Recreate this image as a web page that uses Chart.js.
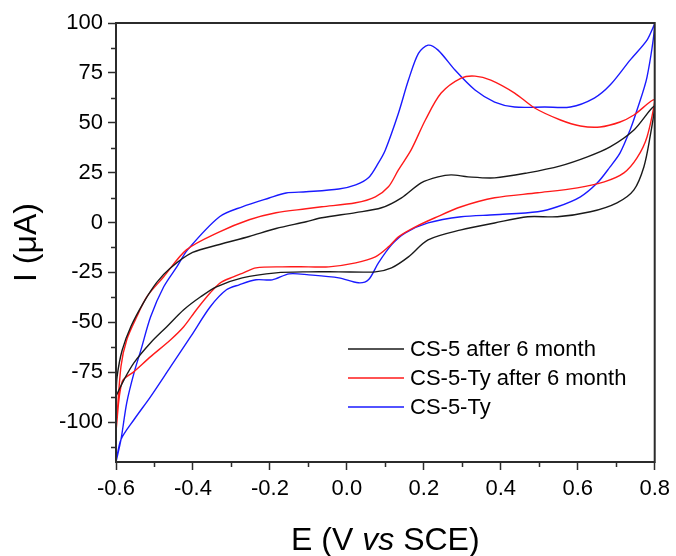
<!DOCTYPE html>
<html>
<head>
<meta charset="utf-8">
<script src="https://cdn.jsdelivr.net/npm/chart.js@4.4.1/dist/chart.umd.min.js"></script>
<style>
  html, body { margin: 0; padding: 0; background: #fff; }
  #wrap { width: 676px; height: 556px; }
</style>
</head>
<body>
<div id="wrap"><canvas id="cv" width="676" height="556"></canvas></div>
<script>
// series names (legend order)
const seriesNames = ['CS-5 after 6 month', 'CS-5-Ty after 6 month', 'CS-5-Ty'];

// CS-5 after 6 month : potential (V) and current (uA), forward scan then reverse
const cs5E = [-0.6, -0.597, -0.584, -0.561, -0.528, -0.494, -0.46, -0.401, -0.331, -0.254, -0.184, -0.106, -0.065, 0.023, 0.09, 0.142, 0.193, 0.237, 0.271, 0.315, 0.384, 0.47, 0.555, 0.625, 0.684, 0.746, 0.8,
  0.788, 0.772, 0.746, 0.702, 0.633, 0.547, 0.47, 0.384, 0.297, 0.211, 0.16, 0.116, 0.074, -0.021, -0.099, -0.184, -0.272, -0.339, -0.38, -0.424, -0.468, -0.51, -0.553, -0.579, -0.6];
const cs5I = [-87, -77, -64, -52, -40, -30, -23, -15, -11, -7, -3, 0.4, 2.4, 5, 7.4, 12.4, 19.9, 22.9, 23.9, 22.9, 22.4, 24.9, 28.4, 32.9, 37.9, 46.4, 58.4,
  43, 28, 16.4, 9.9, 5.4, 2.9, 2.9, -0.2, -3.7, -8.7, -17.2, -22.7, -24.7, -24.7, -24.7, -25.2, -27.7, -32.2, -37.2, -43.7, -52.2, -60.2, -70.2, -78.7, -87];

// CS-5-Ty after 6 month
const cs5TyAgedE = [-0.6, -0.587, -0.572, -0.546, -0.52, -0.476, -0.417, -0.331, -0.254, -0.184, -0.106, -0.065, 0.023, 0.074, 0.108, 0.134, 0.167, 0.204, 0.245, 0.297, 0.333, 0.374, 0.436, 0.488, 0.555, 0.607, 0.658, 0.71, 0.746, 0.8,
  0.78, 0.754, 0.72, 0.669, 0.599, 0.496, 0.384, 0.297, 0.229, 0.178, 0.134, 0.108, 0.074, 0.023, -0.047, -0.099, -0.168, -0.236, -0.269, -0.295, -0.329, -0.355, -0.391, -0.424, -0.458, -0.51, -0.553, -0.584, -0.6];
const cs5TyAgedI = [-104.5, -72, -58.7, -47.2, -37.2, -27.2, -13.7, -4.7, 1.4, 4.9, 6.9, 7.9, 9.9, 12.9, 17.9, 26.4, 36.4, 51.4, 64.9, 72.4, 73.4, 71.4, 64.9, 57.4, 51.4, 48.4, 47.9, 50.4, 53.9, 61.4,
  42.9, 32.4, 24.9, 20.4, 17.4, 14.9, 12.4, 7.9, 2.4, -2.2, -7.2, -12.2, -17.2, -20.2, -22.2, -22.2, -22.2, -22.7, -25.2, -27.2, -30.2, -35.2, -43.7, -52.2, -58.7, -67.2, -74.7, -79.7, -104.5];

// CS-5-Ty
const cs5TyE = [-0.6, -0.587, -0.572, -0.553, -0.535, -0.51, -0.476, -0.442, -0.414, -0.331, -0.272, -0.202, -0.158, -0.106, -0.021, 0.023, 0.056, 0.082, 0.1, 0.134, 0.16, 0.186, 0.211, 0.237, 0.281, 0.333, 0.384, 0.436, 0.514, 0.581, 0.643, 0.684, 0.736, 0.78, 0.8,
  0.78, 0.754, 0.736, 0.71, 0.684, 0.651, 0.607, 0.547, 0.496, 0.384, 0.297, 0.211, 0.152, 0.116, 0.082, 0.056, 0.03, -0.021, -0.099, -0.15, -0.194, -0.236, -0.28, -0.313, -0.355, -0.406, -0.458, -0.51, -0.553, -0.587, -0.6];
const cs5TyI = [-120, -108.7, -90.2, -75.2, -63.7, -47.2, -32.2, -22.2, -13.7, 2.9, 7.9, 12.3, 14.8, 15.4, 16.8, 18.9, 22.4, 29.9, 36.4, 54.8, 71.4, 84.8, 88.9, 86.4, 76.4, 66.4, 60.4, 57.9, 57.9, 57.9, 62.4, 68.9, 81.4, 91.4, 99.5,
  72.9, 56.4, 46.4, 34.9, 27.9, 19.9, 12.9, 7.9, 5.4, 3.9, 2.9, -0.2, -5.2, -11.2, -20.2, -28.7, -30.2, -27.7, -26.2, -25.7, -28.7, -28.7, -31.2, -33.7, -42.2, -57.2, -72.2, -87.2, -98.7, -108.7, -120];

// axis ticks
const xTicks = [-0.6, -0.4, -0.2, 0.0, 0.2, 0.4, 0.6, 0.8];
const xMinorTicks = [-0.5, -0.3, -0.1, 0.1, 0.3, 0.5, 0.7];
const yTicks = [-100, -75, -50, -25, 0, 25, 50, 75, 100];
const yMinorTicks = [-112.5, -87.5, -62.5, -37.5, -12.5, 12.5, 37.5, 62.5, 87.5];

const colors = ['#1a1a1a', '#ff1a1a', '#1a1aff'];
const font = "'Liberation Sans', Arial, sans-serif";
const axisColor = '#2b2b2b';

function toPoints(es, is) {
    return es.map((e, k) => ({ x: e, y: is[k] }));
}

// frame, minor ticks, x title and legend
const decorPlugin = {
    id: 'decor',
    afterDraw(chart) {
        const ctx = chart.ctx;
        const a = chart.chartArea;
        const xs = chart.scales.x, ys = chart.scales.y;
        ctx.save();
        ctx.strokeStyle = axisColor;
        ctx.lineWidth = 2;
        ctx.strokeRect(a.left, a.top, a.right - a.left, a.bottom - a.top);

        ctx.lineWidth = 1.5;
        ctx.beginPath();
        xMinorTicks.forEach(v => {
            const px = Math.round(xs.getPixelForValue(v)) + 0.5;
            ctx.moveTo(px, a.bottom);
            ctx.lineTo(px, a.bottom + 5);
        });
        yMinorTicks.forEach(v => {
            const py = Math.round(ys.getPixelForValue(v)) + 0.5;
            ctx.moveTo(a.left, py);
            ctx.lineTo(a.left - 5, py);
        });
        ctx.stroke();

        // x title with italic "vs"
        const parts = [['E (V ', 'normal'], ['vs', 'italic'], [' SCE)', 'normal']];
        let total = 0;
        parts.forEach(p => {
            ctx.font = p[1] + ' 32px ' + font;
            total += ctx.measureText(p[0]).width;
        });
        let x = (a.left + a.right) / 2 - total / 2;
        ctx.fillStyle = '#000';
        ctx.textBaseline = 'alphabetic';
        ctx.textAlign = 'left';
        parts.forEach(p => {
            ctx.font = p[1] + ' 32px ' + font;
            ctx.fillText(p[0], x, 550);
            x += ctx.measureText(p[0]).width;
        });

        // legend
        ctx.font = '22px ' + font;
        ctx.textBaseline = 'middle';
        chart.data.datasets.forEach((ds, k) => {
            const y = 349 + k * 29;
            ctx.strokeStyle = ds.borderColor;
            ctx.lineWidth = 1.5;
            ctx.beginPath();
            ctx.moveTo(348, y);
            ctx.lineTo(404, y);
            ctx.stroke();
            ctx.fillStyle = '#000';
            ctx.fillText(ds.label, 410, y + 1);
        });
        ctx.restore();
    }
};

const ctx = document.getElementById('cv').getContext('2d');
new Chart(ctx, {
    type: 'scatter',
    data: {
        datasets: [
            { label: seriesNames[0], data: toPoints(cs5E, cs5I) },
            { label: seriesNames[1], data: toPoints(cs5TyAgedE, cs5TyAgedI) },
            { label: seriesNames[2], data: toPoints(cs5TyE, cs5TyI) }
        ].map((d, k) => Object.assign(d, {
            showLine: true,
            borderColor: colors[k],
            backgroundColor: colors[k],
            borderWidth: 1.4,
            pointRadius: 0,
            tension: 0.3
        }))
    },
    options: {
        responsive: false,
        animation: false,
        devicePixelRatio: 1,
        layout: { padding: { top: 23, right: 18, left: 0, bottom: 0 } },
        plugins: {
            legend: { display: false },
            tooltip: { enabled: false }
        },
        scales: {
            x: {
                type: 'linear',
                min: -0.6,
                max: 0.8,
                afterFit: s => { s.height = 94; },
                afterBuildTicks: s => { s.ticks = xTicks.map(v => ({ value: v })); },
                border: { display: false },
                grid: { drawOnChartArea: false, drawTicks: true, tickLength: 8, tickWidth: 1.5, tickColor: axisColor },
                ticks: {
                    padding: 6,
                    color: '#000',
                    font: { family: font, size: 22 },
                    maxRotation: 0,
                    callback: v => v.toFixed(1)
                }
            },
            y: {
                type: 'linear',
                min: -120,
                max: 100,
                afterFit: s => { s.width = 116; },
                afterBuildTicks: s => { s.ticks = yTicks.map(v => ({ value: v })); },
                border: { display: false },
                grid: { drawOnChartArea: false, drawTicks: true, tickLength: 8, tickWidth: 1.5, tickColor: axisColor },
                ticks: {
                    padding: 5,
                    color: '#000',
                    font: { family: font, size: 22 },
                    callback: v => String(v)
                },
                title: {
                    display: true,
                    text: 'I (\u03bcA)',
                    color: '#000',
                    font: { family: font, size: 32 },
                    padding: { top: 8, bottom: 0 }
                }
            }
        }
    },
    plugins: [decorPlugin]
});
</script>
</body>
</html>
